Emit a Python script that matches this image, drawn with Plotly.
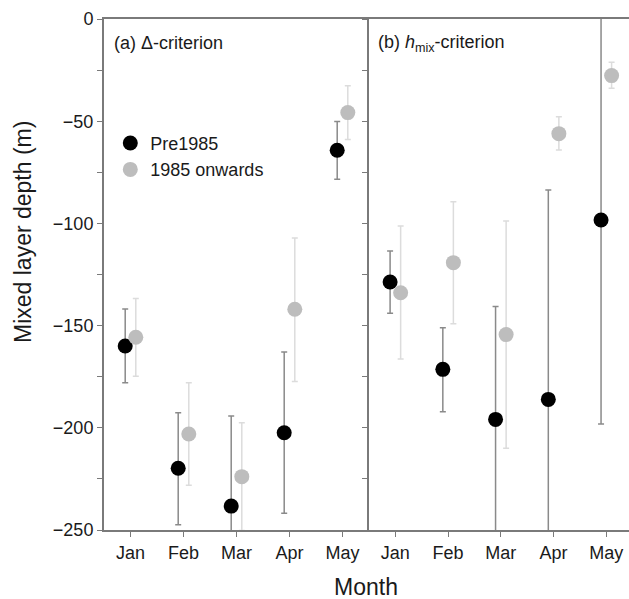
import plotly.graph_objects as go

months = ["Jan", "Feb", "Mar", "Apr", "May"]
month_pos = [1, 2, 3, 4, 5]

# Panel (a) Delta-criterion
a_pre = [-160.0, -219.8, -238.3, -202.4, -64.2]
a_pre_up = [18.1, 27.2, 44.1, 39.5, 14.0]
a_pre_dn = [17.9, 27.6, 44.1, 39.4, 14.2]
a_post = [-155.7, -203.0, -223.9, -142.0, -45.8]
a_post_up = [18.9, 25.1, 26.4, 34.9, 13.2]
a_post_dn = [19.1, 25.1, 26.4, 35.4, 13.2]

# Panel (b) hmix-criterion
b_pre = [-128.7, -171.4, -195.9, -186.1, -98.3]
b_pre_up = [15.2, 20.4, 55.2, 102.4, 99.8]
b_pre_dn = [15.3, 20.7, 55.2, 102.4, 99.8]
b_post = [-133.9, -119.2, -154.4, -56.1, -27.7]
b_post_up = [32.6, 29.8, 55.6, 8.3, 6.5]
b_post_dn = [32.4, 29.9, 55.6, 8.0, 6.2]

OFF = 0.1
FONT = "Liberation Sans, Arial, sans-serif"
AXC = "#7a7a7a"
TXT = "#1a1a1a"

fig = go.Figure()

def add(xs, ys, up, dn, color, ecol, name, xa, ya, show):
    fig.add_trace(go.Scatter(
        x=xs, y=ys, mode="markers", name=name, showlegend=show,
        marker=dict(color=color, size=15, line=dict(width=0)),
        error_y=dict(type="data", symmetric=False, array=up, arrayminus=dn,
                     color=ecol, thickness=1.5, width=3),
        xaxis=xa, yaxis=ya))

xl = [m - OFF for m in month_pos]
xr = [m + OFF for m in month_pos]
add(xl, a_pre, a_pre_up, a_pre_dn, "black", "#8a8a8a", "Pre1985", "x", "y", True)
add(xr, a_post, a_post_up, a_post_dn, "#bdbdbd", "#dcdcdc", "1985 onwards", "x", "y", True)
add(xl, b_pre, b_pre_up, b_pre_dn, "black", "#8a8a8a", "Pre1985", "x2", "y2", False)
add(xr, b_post, b_post_up, b_post_dn, "#bdbdbd", "#dcdcdc", "1985 onwards", "x2", "y2", False)

split = (369 - 104) / 525

xcommon = dict(tickvals=month_pos, ticktext=months, ticks="outside", ticklen=5,
               tickcolor=AXC, showline=True, linecolor=AXC, linewidth=2,
               mirror=True, showgrid=False, zeroline=False,
               tickfont=dict(family=FONT, size=18, color=TXT))
ycommon = dict(range=[-250, 0], tickvals=[0, -50, -100, -150, -200, -250],
               ticks="outside", ticklen=5, tickcolor=AXC,
               minor=dict(dtick=25, ticks="outside", ticklen=5, tickcolor=AXC),
               showline=True, linecolor=AXC, linewidth=2, showgrid=False,
               zeroline=False)

fig.update_layout(
    width=629, height=599,
    margin=dict(l=104, r=0, t=19, b=69),
    plot_bgcolor="white", paper_bgcolor="white",
    font=dict(family=FONT, color=TXT),
    xaxis=dict(domain=[0, split], range=[0.5, 5.5], **xcommon),
    xaxis2=dict(domain=[split, 1], range=[0.5, 5.43], anchor="y2", **xcommon),
    yaxis=dict(domain=[0, 1], anchor="x", tickfont=dict(family=FONT, size=18, color=TXT), **ycommon),
    yaxis2=dict(domain=[0, 1], anchor="x2", matches="y", showticklabels=False, **ycommon),
    legend=dict(x=0.012, y=0.793, xanchor="left", yanchor="top", bgcolor="rgba(0,0,0,0)",
                font=dict(family=FONT, size=18, color=TXT), tracegroupgap=0),
    annotations=[
        dict(text="(a) Δ-criterion", xref="paper", yref="paper", x=0.016, y=0.953,
             xanchor="left", yanchor="middle", showarrow=False, font=dict(family=FONT, size=18)),
        dict(text="(b) <i>h</i><sub>mix</sub>-criterion", xref="paper", yref="paper",
             x=split + 0.014, y=0.953, xanchor="left", yanchor="middle", showarrow=False,
             font=dict(family=FONT, size=18)),
        dict(text="Month", xref="paper", yref="paper", x=(366 - 104) / 525, y=-0.1115,
             xanchor="center", yanchor="middle", showarrow=False, font=dict(family=FONT, size=23)),
        dict(text="Mixed layer depth (m)", xref="paper", yref="paper", x=(23 - 104) / 525,
             y=(530 - 232) / 511, xanchor="center", yanchor="middle", textangle=-90,
             showarrow=False, font=dict(family=FONT, size=23)),
    ],
)

fig.write_html("out.html")
